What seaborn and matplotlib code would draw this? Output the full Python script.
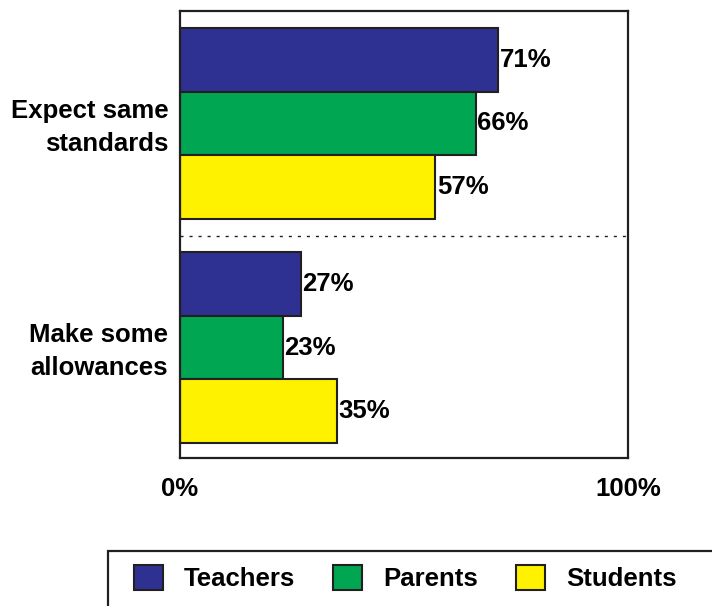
import matplotlib
matplotlib.use("Agg")
import matplotlib.pyplot as plt
import matplotlib.transforms as mtransforms
from matplotlib.patches import Rectangle
import seaborn as sns
import pandas as pd

# ---------- data ----------
responses = ["Expect same\nstandards", "Make some\nallowances"]
groups = ["Teachers", "Parents", "Students"]
teachers = [71, 27]
parents = [66, 23]
students = [57, 35]
colors = ["#2E3192", "#00A651", "#FFF200"]

rows = []
for g, vals in zip(groups, [teachers, parents, students]):
    for r, v in zip(responses, vals):
        rows.append({"response": r, "group": g, "value": v})
df = pd.DataFrame(rows)

# ---------- style ----------
sns.set_theme(style="white")
plt.rcParams["font.family"] = ["Liberation Sans", "DejaVu Sans"]
plt.rcParams["font.weight"] = "bold"
plt.rcParams["text.color"] = "black"
dark = "#231F20"
fs = 18.5

fig = plt.figure(figsize=(7.12, 6.06), dpi=100)
ax = fig.add_axes([180 / 712, 1 - 458 / 606, 448 / 712, 447 / 606])

sns.barplot(data=df, y="response", x="value", hue="group", orient="h",
            order=responses, hue_order=groups, palette=colors, saturation=1,
            width=0.85, edgecolor=dark, linewidth=1.5, ax=ax)

# value labels at bar ends
for cont, vals in zip(ax.containers, [teachers, parents, students]):
    ax.bar_label(cont, labels=[f"{v}%" for v in vals], padding=1,
                 fontsize=fs, fontweight="bold", color="black")

# dotted separator between the two groups
ax.axhline(0.5, color=dark, lw=1.0, linestyle=(0, (2.2, 4.3)))

ax.set_xlim(0, 100)
ax.set_ylim(1.493, -0.502)
ax.set_xticks([0, 100])
ax.set_xticklabels(["0%", "100%"], fontsize=fs, fontweight="bold", color="black")
ax.set_yticks([0, 1])
ax.set_yticklabels(responses, fontsize=fs, fontweight="bold", color="black",
                   linespacing=1.5)
ax.tick_params(axis="both", length=0)
ax.tick_params(axis="x", pad=14)
ax.tick_params(axis="y", pad=8.5)
# nudge the two-line category labels up a little
shift = mtransforms.ScaledTranslation(0, 2.5 / 72, fig.dpi_scale_trans)
for lab in ax.get_yticklabels():
    lab.set_transform(lab.get_transform() + shift)
ax.set_xlabel("")
ax.set_ylabel("")
for sp in ax.spines.values():
    sp.set_visible(True)
    sp.set_color(dark)
    sp.set_linewidth(1.6)

# legend at the bottom, with a frame that runs off the right edge
handles, labels = ax.get_legend_handles_labels()
ax.get_legend().remove()
leg = fig.legend(handles, labels, loc="center left",
                 bbox_to_anchor=(134 / 712, 1 - 578 / 606), ncol=3,
                 frameon=False, prop={"weight": "bold", "size": fs},
                 handlelength=1.13, handleheight=1.15, handletextpad=0.8,
                 columnspacing=1.5, borderpad=0, borderaxespad=0)
for t in leg.get_texts():
    t.set_color("black")
fig.patches.append(Rectangle((108 / 712, -0.05), 0.9, 1 - 551 / 606 + 0.05,
                             transform=fig.transFigure, fill=False,
                             edgecolor=dark, lw=1.6))

fig.savefig("out.png", dpi=100)
